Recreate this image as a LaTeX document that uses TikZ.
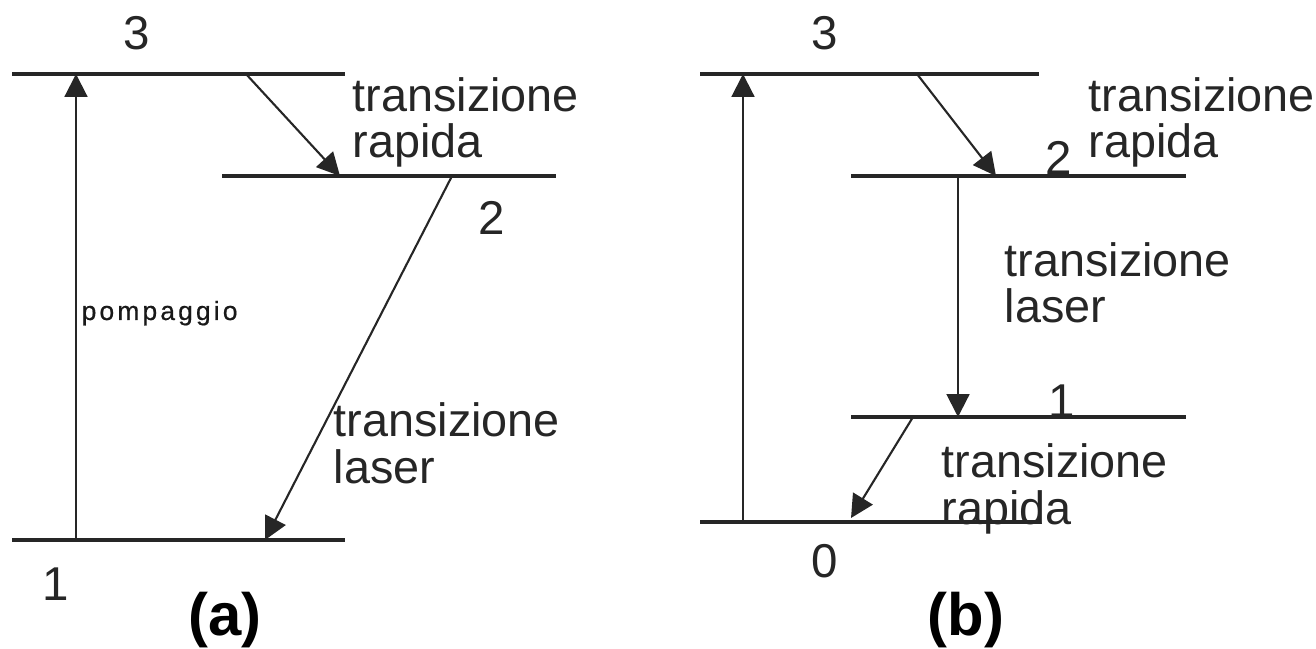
\documentclass[tikz,border=0pt]{standalone}
\usepackage{fontspec}
\setmainfont{Liberation Sans}
\usetikzlibrary{arrows.meta}
\begin{document}
\begin{tikzpicture}[x=0.01cm,y=-0.01cm,
  level/.style={line width=0.95pt,draw=black!85},
  trans/.style={line width=0.6pt,draw=black!85,-{Triangle[length=6.5pt,width=6.5pt]}},
  lbl/.style={inner sep=0pt,anchor=base west,align=left,text=black!85,font=\fontsize{13.3}{13.1}\selectfont},
  num/.style={inner sep=0pt,anchor=base,text=black!85,font=\fontsize{13.5}{14}\selectfont},
  caption/.style={inner sep=0pt,anchor=base,font=\fontsize{17}{18}\selectfont\bfseries}]
\useasboundingbox (0,0) rectangle (1316,649);
% ---------- (a) ----------
\coordinate (a3l) at (12,74);  \coordinate (a3r) at (345,74);
\coordinate (a2l) at (222,176); \coordinate (a2r) at (556,176);
\coordinate (a1l) at (12,540); \coordinate (a1r) at (345,540);
\draw[level] (a3l) -- (a3r);
\draw[level] (a2l) -- (a2r);
\draw[level] (a1l) -- (a1r);
\coordinate (apb) at (76,540); \coordinate (apt) at (76,74);
\coordinate (ars) at (246,74); \coordinate (are) at (340,176);
\coordinate (als) at (452,176); \coordinate (ale) at (265,540);
\draw[trans] (apb) -- (apt);
\draw[trans] (ars) -- (are);
\draw[trans] (als) -- (ale);
\node[num] (an3) at (137,50) {3};
\node[num] (an2) at (492,235) {2};
\node[num] (an1) at (56,600) {1};
\node[lbl] (art) at (352,158) {transizione\\rapida};
\node[lbl] (alt) at (333,483) {transizione\\laser};
\node[inner sep=0pt,anchor=base west,text=black!90,font=\fontsize{7.5}{9}\selectfont\addfontfeature{LetterSpace=12,FakeBold=0.6}] (apomp) at (81,320) {pompaggio};
\node[caption] (acap) at (225,635) {(a)};
% ---------- (b) ----------
\coordinate (b3l) at (700,74);  \coordinate (b3r) at (1039,74);
\coordinate (b2l) at (851,176); \coordinate (b2r) at (1186,176);
\coordinate (b1l) at (851,417); \coordinate (b1r) at (1186,417);
\coordinate (b0l) at (700,522); \coordinate (b0r) at (1039,522);
\draw[level] (b3l) -- (b3r);
\draw[level] (b2l) -- (b2r);
\draw[level] (b1l) -- (b1r);
\draw[level] (b0l) -- (b0r);
\coordinate (bpb) at (743,522); \coordinate (bpt) at (743,74);
\coordinate (brs) at (917,74); \coordinate (bre) at (996,176);
\coordinate (bls) at (958,176); \coordinate (ble) at (958,417);
\coordinate (bqs) at (913,417); \coordinate (bqe) at (851,518);
\draw[trans] (bpb) -- (bpt);
\draw[trans] (brs) -- (bre);
\draw[trans] (bls) -- (ble);
\draw[trans] (bqs) -- (bqe);
\node[num] (bn3) at (825,50) {3};
\node[num] (bn2) at (1059,175) {2};
\node[num] (bn1) at (1062,417) {1};
\node[num] (bn0) at (825,577) {0};
\node[lbl] (brt) at (1088,158) {transizione\\rapida};
\node[lbl] (blt) at (1004,323) {transizione\\laser};
\node[lbl] (bqt) at (941,524) {transizione\\rapida};
\node[caption] (bcap) at (966,635) {(b)};
\end{tikzpicture}
\end{document}
